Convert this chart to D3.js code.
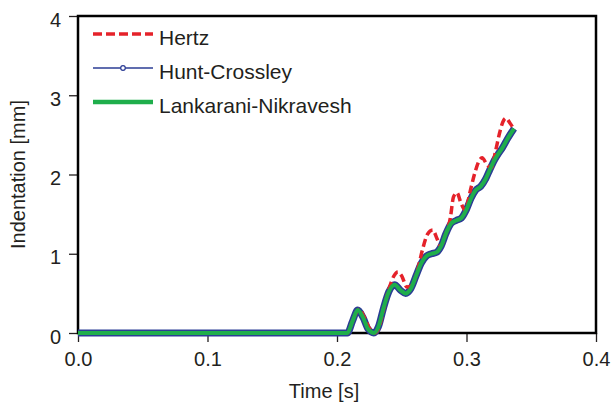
<!DOCTYPE html>
<html>
<head>
<meta charset="utf-8">
<script src="https://cdn.jsdelivr.net/npm/d3@7"></script>
<style>
  body { margin: 0; background: #fff; }
  svg text { font-family: "Liberation Sans", Arial, sans-serif; fill: #231f20; }
</style>
</head>
<body>
<div id="chart"></div>
<script>
// time [s] and indentation [mm]
const hertzT = [0, 0.208, 0.212, 0.217, 0.221, 0.225, 0.229, 0.232, 0.236, 0.240, 0.244, 0.247, 0.250, 0.254, 0.258, 0.262, 0.266, 0.270, 0.274, 0.277, 0.280, 0.284, 0.2875, 0.290, 0.2927, 0.2955, 0.299, 0.303, 0.3066, 0.310, 0.312, 0.316, 0.319, 0.3225, 0.3255, 0.328, 0.3305, 0.3335, 0.3367];
const hertzV = [0, 0, 0.15, 0.30, 0.20, 0.06, 0, 0.05, 0.30, 0.55, 0.72, 0.77, 0.72, 0.58, 0.60, 0.78, 1.05, 1.25, 1.30, 1.20, 1.10, 1.25, 1.45, 1.72, 1.77, 1.65, 1.55, 1.80, 2.03, 2.18, 2.21, 2.12, 2.08, 2.30, 2.52, 2.66, 2.71, 2.65, 2.57];

const huntT = [0, 0.208, 0.212, 0.216, 0.220, 0.224, 0.2285, 0.232, 0.236, 0.240, 0.2445, 0.249, 0.253, 0.257, 0.261, 0.265, 0.269, 0.273, 0.277, 0.2805, 0.284, 0.288, 0.292, 0.296, 0.300, 0.3035, 0.307, 0.311, 0.315, 0.318, 0.3215, 0.3245, 0.3275, 0.332, 0.3367];
const huntV = [0, 0, 0.15, 0.29, 0.20, 0.05, 0, 0.08, 0.32, 0.52, 0.61, 0.54, 0.50, 0.56, 0.72, 0.88, 0.97, 1.00, 1.02, 1.10, 1.25, 1.38, 1.42, 1.45, 1.56, 1.70, 1.80, 1.85, 1.95, 2.06, 2.18, 2.26, 2.33, 2.46, 2.58];

const lankT = [0, 0.208, 0.212, 0.216, 0.220, 0.224, 0.2285, 0.232, 0.236, 0.240, 0.2445, 0.249, 0.253, 0.257, 0.261, 0.265, 0.269, 0.273, 0.277, 0.2805, 0.284, 0.288, 0.292, 0.296, 0.300, 0.3035, 0.307, 0.311, 0.315, 0.318, 0.3215, 0.3245, 0.3275, 0.332, 0.3367];
const lankV = [0, 0, 0.15, 0.29, 0.20, 0.05, 0, 0.08, 0.32, 0.52, 0.61, 0.54, 0.50, 0.56, 0.72, 0.88, 0.97, 1.00, 1.02, 1.10, 1.25, 1.38, 1.42, 1.45, 1.56, 1.70, 1.80, 1.85, 1.95, 2.06, 2.18, 2.26, 2.33, 2.46, 2.58];

const xTicks = [0, 0.1, 0.2, 0.3, 0.4];
const yTicks = [0, 1, 2, 3, 4];
const seriesNames = ["Hertz", "Hunt-Crossley", "Lankarani-Nikravesh"];

const W = 614, H = 403;
const margin = { top: 16, right: 18, bottom: 70, left: 78 };
const width = W - margin.left - margin.right;
const height = H - margin.top - margin.bottom;

const svg = d3.select("#chart").append("svg")
    .attr("width", W)
    .attr("height", H);

const g = svg.append("g")
    .attr("transform", `translate(${margin.left},${margin.top})`);

const x = d3.scaleLinear().domain([0, 0.4]).range([0, width]);
const y = d3.scaleLinear().domain([0, 4]).range([height, 0]);

// X axis (ticks outward, below)
const xAxis = g.append("g")
    .attr("transform", `translate(0,${height})`)
    .call(d3.axisBottom(x).tickValues(xTicks).tickFormat(d3.format(".1f")).tickSizeOuter(0).tickSize(9).tickPadding(5));
xAxis.select(".domain").remove();
xAxis.selectAll("line").attr("stroke", "#231f20").attr("stroke-width", 1.3);
xAxis.selectAll("text").style("font-size", "20px").attr("dy", "0.95em");

// Y axis (ticks outward, left)
const yAxis = g.append("g")
    .call(d3.axisLeft(y).tickValues(yTicks).tickFormat(d3.format("d")).tickSizeOuter(0).tickSize(9).tickPadding(8));
yAxis.select(".domain").remove();
yAxis.selectAll("line").attr("stroke", "#231f20").attr("stroke-width", 1.3);
yAxis.selectAll("text").style("font-size", "20px").attr("dy", "0.5em");

// frame
g.append("rect")
    .attr("x", 0).attr("y", 0)
    .attr("width", width).attr("height", height)
    .attr("fill", "none")
    .attr("stroke", "#000")
    .attr("stroke-width", 2.5);

// axis titles
svg.append("text")
    .attr("x", 324)
    .attr("y", 398)
    .attr("text-anchor", "middle")
    .style("font-size", "20px")
    .text("Time [s]");

svg.append("text")
    .attr("transform", `translate(25,${margin.top + height / 2}) rotate(-90)`)
    .attr("text-anchor", "middle")
    .style("font-size", "20px")
    .text("Indentation [mm]");

const line = d3.line()
    .x(d => x(d[0]))
    .y(d => y(d[1]))
    .curve(d3.curveMonotoneX);

const hertz = d3.zip(hertzT, hertzV);
const hunt = d3.zip(huntT, huntV);
const lank = d3.zip(lankT, lankV);

// Hunt-Crossley: dense markers make it look like a thick blue band
g.append("path")
    .datum(hunt)
    .attr("fill", "none")
    .attr("stroke", "#2b3c95")
    .attr("stroke-width", 7)
    .attr("stroke-linejoin", "round")
    .attr("d", line);

g.append("path")
    .datum(hertz)
    .attr("fill", "none")
    .attr("stroke", "#e5222a")
    .attr("stroke-width", 3.5)
    .attr("stroke-dasharray", "8,4")
    .attr("d", line);

g.append("path")
    .datum(lank)
    .attr("fill", "none")
    .attr("stroke", "#1fae4b")
    .attr("stroke-width", 4)
    .attr("stroke-linejoin", "round")
    .attr("d", line);

// legend
const legend = svg.append("g");
const rows = [34, 68, 102];

legend.append("line")
    .attr("x1", 93).attr("x2", 153).attr("y1", rows[0]).attr("y2", rows[0])
    .attr("stroke", "#e5222a").attr("stroke-width", 3.5).attr("stroke-dasharray", "9,4");

legend.append("line")
    .attr("x1", 93).attr("x2", 153).attr("y1", rows[1]).attr("y2", rows[1])
    .attr("stroke", "#2b3c95").attr("stroke-width", 1.5);
legend.append("circle")
    .attr("cx", 123).attr("cy", rows[1]).attr("r", 2.3)
    .attr("fill", "#fff").attr("stroke", "#2b3c95").attr("stroke-width", 1.2);

legend.append("line")
    .attr("x1", 93).attr("x2", 153).attr("y1", rows[2]).attr("y2", rows[2])
    .attr("stroke", "#1fae4b").attr("stroke-width", 4.5);

legend.selectAll("text")
    .data(seriesNames)
    .enter()
    .append("text")
    .attr("x", 159)
    .attr("y", (d, i) => rows[i] + 11)
    .style("font-size", "21px")
    .text(d => d);
</script>
</body>
</html>
